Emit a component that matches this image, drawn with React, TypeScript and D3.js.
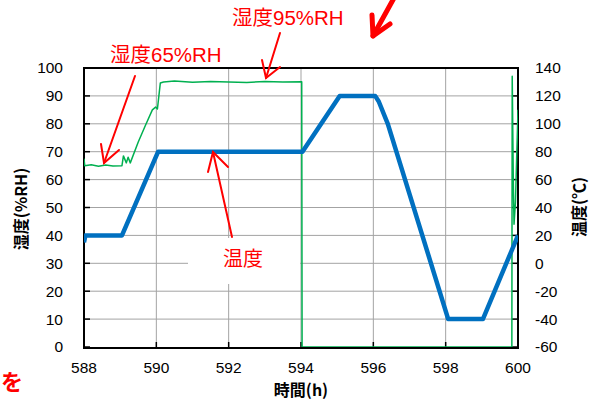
import React from "react";
import * as d3 from "d3";

// temperature (right axis, degC)
const tempHours = [588, 588.04, 589.05, 590.05, 594.04, 595.07, 596.05, 596.15, 596.4, 598.07, 599.03, 600];
const tempValues = [15, 20, 20, 80, 80, 120, 120, 116, 100, -40, -40, 20];

// humidity (left axis, %RH)
const humHours = [
  588, 588.02, 588.2, 588.4, 588.6, 588.8, 589.05, 589.09, 589.17, 589.22, 589.28, 589.5, 589.7,
  589.89, 589.98, 590.03, 590.11, 590.2, 590.5, 591, 591.5, 592, 592.5, 593, 593.5, 594.02,
  594.03, 599.83, 599.84, 599.87, 599.89, 599.93, 600,
];
const humValues = [
  67.5, 65, 65.3, 64.8, 65.2, 64.9, 65, 68.5, 66, 68, 66, 73.5, 79.5,
  85, 86, 85.3, 94.6, 95, 95.3, 94.9, 95.2, 95, 94.8, 95.2, 95, 95.1,
  0, 0, 97, 60, 44, 52, 85,
];

const xTicks = [588, 590, 592, 594, 596, 598, 600];
const leftTicks = [0, 10, 20, 30, 40, 50, 60, 70, 80, 90, 100];
const rightTicks = [-60, -40, -20, 0, 20, 40, 60, 80, 100, 120, 140];

const W = 589;
const H = 401;
const left = 84, right = 518, top = 68, bottom = 347;

const LATIN = "'Liberation Sans', Arial, 'Noto Sans CJK JP', sans-serif";
const CJK = "'Noto Sans CJK JP', sans-serif";
const RED = "#ff0000";

export default function App() {
  const x = d3.scaleLinear().domain([588, 600]).range([left, right]);
  const yL = d3.scaleLinear().domain([0, 100]).range([bottom, top]);
  const yR = d3.scaleLinear().domain([-60, 140]).range([bottom, top]);

  const tempLine = d3.line<number>().x((d, i) => x(tempHours[i])).y(d => yR(d));
  const humLine = d3.line<number>().x((d, i) => x(humHours[i])).y(d => yL(d));

  return (
    <svg width={W} height={H} style={{ position: "absolute", left: 0, top: 0, background: "#fff" }}
      fontFamily={LATIN}>
      <rect x={0} y={0} width={W} height={H} fill="#fff" />

      {/* grid */}
      {leftTicks.slice(1, -1).map(t => (
        <line key={"h" + t} x1={left} x2={right} y1={yL(t)} y2={yL(t)} stroke="#a3a3a3" strokeWidth={1} />
      ))}
      {xTicks.slice(1, -1).map(t => (
        <line key={"v" + t} x1={x(t)} x2={x(t)} y1={top} y2={bottom} stroke="#a3a3a3" strokeWidth={1} />
      ))}

      {/* white box behind label */}
      <rect x={188} y={238} width={112} height={46} fill="#fff" />

      {/* ticks */}
      {leftTicks.map(t => (
        <line key={"lt" + t} x1={left} x2={left + 6} y1={yL(t)} y2={yL(t)} stroke="#000" strokeWidth={1.5} />
      ))}
      {rightTicks.map(t => (
        <line key={"rt" + t} x1={right - 6} x2={right} y1={yR(t)} y2={yR(t)} stroke="#000" strokeWidth={1.5} />
      ))}
      {xTicks.map(t => (
        <line key={"bt" + t} x1={x(t)} x2={x(t)} y1={bottom - 5} y2={bottom} stroke="#000" strokeWidth={1.5} />
      ))}

      {/* plot border */}
      <rect x={left} y={top} width={right - left} height={bottom - top + 1} fill="none" stroke="#000" strokeWidth={2} />

      <defs>
        <clipPath id="plotClip">
          <rect x={left} y={top - 2} width={right - left} height={bottom - top + 2} />
        </clipPath>
      </defs>

      <g clipPath="url(#plotClip)">
        <path d={humLine(humValues) || ""} fill="none" stroke="#00b050" strokeWidth={1.5} strokeLinejoin="round" />
        <path d={tempLine(tempValues) || ""} fill="none" stroke="#0070c0" strokeWidth={4.5} strokeLinejoin="round" />
      </g>

      {/* tick labels */}
      {leftTicks.map(t => (
        <text key={"ll" + t} x={63} y={yL(t)} dy="0.35em" textAnchor="end" fontSize={15.5} fill="#000">{t}</text>
      ))}
      {rightTicks.map(t => (
        <text key={"rl" + t} x={535} y={yR(t)} dy="0.35em" textAnchor="start" fontSize={15.5} fill="#000">{t}</text>
      ))}
      {xTicks.map(t => (
        <text key={"xl" + t} x={x(t)} y={373} textAnchor="middle" fontSize={15.5} fill="#000">{t}</text>
      ))}

      {/* axis titles */}
      <text transform="translate(21,209) rotate(-90)" textAnchor="middle" dy="0.35em" fontSize={16} fontWeight="bold"
        fontFamily={CJK}>湿度(%RH)</text>
      <text transform="translate(579,207) rotate(-90)" textAnchor="middle" dy="0.35em" fontSize={16} fontWeight="bold"
        fontFamily={CJK}>温度(℃)</text>
      <text x={301} y={396} textAnchor="middle" fontSize={16} fontWeight="bold"
        fontFamily={CJK}>時間(h)</text>

      {/* annotations */}
      <text x={110} y={62} fontSize={20.5} fill={RED}>湿度65%RH</text>
      <text x={232} y={25} fontSize={20.5} fill={RED}>湿度95%RH</text>
      <text x={223} y={266} fontSize={20} fill={RED} fontFamily={CJK}>温度</text>
      <text x={1} y={390} fontSize={22} fontWeight="bold" fill={RED} fontFamily={CJK}>を</text>

      <g stroke={RED} strokeWidth={2} fill="none" strokeLinecap="round">
        <line x1={135} y1={76} x2={104} y2={163} />
        <polyline points="101,144 104,163 119,150" />
        <line x1={280} y1={33} x2={266} y2={78} />
        <polyline points="262,60 266,78 280,67" />
        <line x1={232} y1={237} x2={213} y2={152} />
        <polyline points="208,172 213,152 228,167" />
      </g>
      <g stroke={RED} strokeWidth={5} fill="none" strokeLinecap="round" strokeLinejoin="round">
        <line x1={394} y1={-2} x2={373} y2={36} />
        <polyline points="372,15 373,36 390,24" />
      </g>
    </svg>
  );
}
